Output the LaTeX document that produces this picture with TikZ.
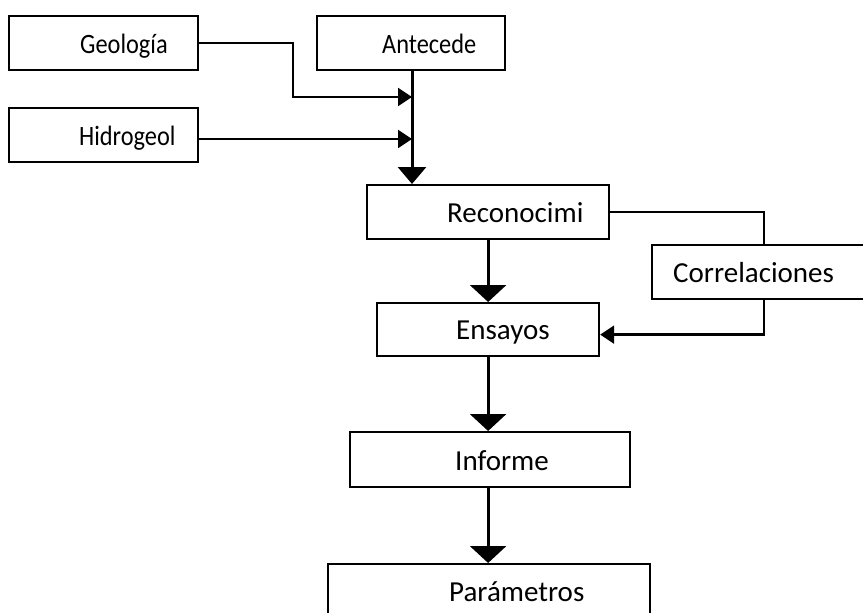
\documentclass[tikz,border=0pt]{standalone}
\usepackage{fontspec}
\setmainfont{Carlito}
\usetikzlibrary{arrows.meta}
\newcommand{\narrow}[1]{\scalebox{0.87}[1]{#1}}

\begin{document}
\begin{tikzpicture}[x=1pt,y=-1pt,
    box/.style={draw,line width=2.2pt,anchor=north west,inner sep=0pt},
    txt/.style={anchor=base west,inner sep=0pt,font=\fontsize{29}{34}\selectfont},
    small/.style={font=\fontsize{28}{33}\selectfont},
    flow/.style={line width=3pt,-{Triangle[width=36pt,length=17pt]}},
    feed/.style={line width=2.4pt,-{Triangle[width=18pt,length=14pt]}}]
            \clip (0,0) rectangle (863,613);
            \useasboundingbox (0,0) rectangle (863,613);
            \node[box,minimum width=189,minimum height=54](geo) at (8,15){};
            \node[box,minimum width=188,minimum height=54](ant) at (316,15){};
            \node[box,minimum width=189,minimum height=54](hid) at (8,107){};
            \node[box,minimum width=242,minimum height=54](rec) at (366,184){};
            \node[box,minimum width=224,minimum height=54](cor) at (651,244){};
            \node[box,minimum width=222,minimum height=53](ens) at (376,302){};
            \node[box,minimum width=280,minimum height=55](inf) at (349,431){};
            \node[box,minimum width=322,minimum height=70](par) at (327,563){};
            \node[txt,small](geoT) at ([xshift=72,yshift=-38]geo.north west){\narrow{Geología}};
            \node[txt,small](antT) at ([xshift=66,yshift=-38]ant.north west){\narrow{Antecede}};
            \node[txt,small](hidT) at ([xshift=71,yshift=-38]hid.north west){\narrow{Hidrogeol}};
            \node[txt](recT) at ([xshift=81,yshift=-38]rec.north west){Reconocimi};
            \node[txt](corT) at ([xshift=22,yshift=-38]cor.north west){Correlaciones};
            \node[txt](ensT) at ([xshift=80,yshift=-37]ens.north west){Ensayos};
            \node[txt](infT) at ([xshift=106,yshift=-39]inf.north west){Informe};
            \node[txt](parT) at ([xshift=122,yshift=-38]par.north west){Parámetros};
            \coordinate (m1) at (412,97);
            \coordinate (m2) at (412,139);
            \coordinate (k1) at (293,97);
            \draw[line width=3pt,-{Triangle[width=28pt,length=17pt]}] (ant.south -| m1) -- (rec.north -| m1);
            \draw[feed] (geo.east) -| (k1) -- (m1);
            \draw[feed] (m2 -| hid.east) -- (m2);
            \draw[flow] (rec.south) -- (rec.south |- ens.north);
            \draw[line width=2.4pt] (rec.east) -| (cor.north);
            \draw[feed] (cor.south) |- ([yshift=-5]ens.east);
            \draw[flow] (ens.south) -- (ens.south |- inf.north);
            \draw[flow] (ens.south |- inf.south) -- (ens.south |- par.north);
        \end{tikzpicture}
\end{document}
